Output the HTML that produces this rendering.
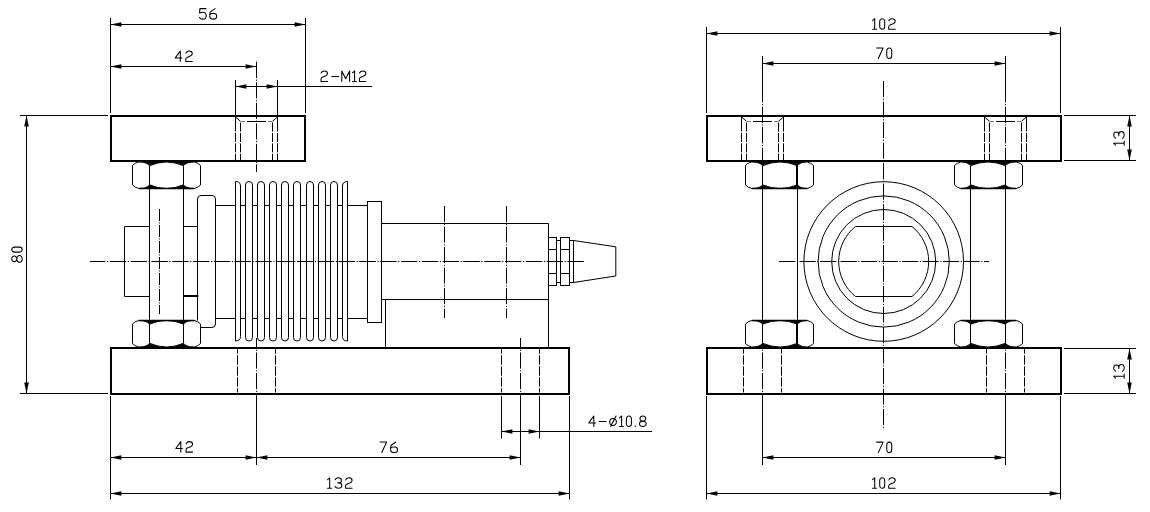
<!DOCTYPE html>
<html><head><meta charset="utf-8"><title>Drawing</title><style>html,body{margin:0;padding:0;background:#fff;width:1150px;height:512px;overflow:hidden;font-family:"Liberation Sans",sans-serif;}svg{display:block;}</style></head><body>
<svg width="1150" height="512" viewBox="0 0 1150 512" stroke="#000" fill="none">
<rect x="0" y="0" width="1150" height="512" fill="#fff" stroke="none"/>
<line x1="110.5" y1="18" x2="110.5" y2="113" stroke-width="1"/>
<line x1="305.5" y1="18" x2="305.5" y2="113" stroke-width="1"/>
<line x1="110.5" y1="24.5" x2="305.5" y2="24.5" stroke-width="1"/>
<path d="M110.5,24.5 L121.4,26.8 L121.4,22.2 Z" fill="#000" stroke="none"/>
<path d="M305.5,24.5 L294.6,22.2 L294.6,26.8 Z" fill="#000" stroke="none"/>
<path transform="translate(198.9,8.1)" d="M7,0.5 H1 L0.7,5 Q1.8,4.2 3.9,4.2 Q7.3,4.2 7.3,7.6 Q7.3,11 3.9,11 Q1.5,11 0.5,9.4" stroke-width="1.05" fill="none" stroke-linecap="round" stroke-linejoin="round"/>
<path transform="translate(209.3,8.1)" d="M5.7,0.5 L1.1,3.8 Q0.5,4.3 0.5,5.6 V8.2 Q0.5,11 3.3,11 H4.6 Q7.4,11 7.4,8.2 Q7.4,5.4 4.6,5.4 H3.3 Q1.4,5.4 0.5,6.6" stroke-width="1.05" fill="none" stroke-linecap="round" stroke-linejoin="round"/>
<line x1="110.5" y1="66.5" x2="256.5" y2="66.5" stroke-width="1"/>
<path d="M110.5,66.5 L121.4,68.8 L121.4,64.2 Z" fill="#000" stroke="none"/>
<path d="M256.5,66.5 L245.6,64.2 L245.6,68.8 Z" fill="#000" stroke="none"/>
<path transform="translate(174.8,50.5)" d="M5.5,11 V0.5 L0.5,7.4 H7.2" stroke-width="1.05" fill="none" stroke-linecap="round" stroke-linejoin="round"/>
<path transform="translate(185.2,50.5)" d="M0.7,2.6 Q1.6,0.5 3.9,0.5 Q7.1,0.5 7.1,3.1 Q7.1,4.6 5,5.6 L1.8,6.9 Q0.6,7.5 0.6,8.8 V11 H7.1" stroke-width="1.05" fill="none" stroke-linecap="round" stroke-linejoin="round"/>
<line x1="235.5" y1="80" x2="235.5" y2="115" stroke-width="1"/>
<line x1="277.5" y1="80" x2="277.5" y2="115" stroke-width="1"/>
<line x1="235.5" y1="86.5" x2="372" y2="86.5" stroke-width="1"/>
<path d="M235.5,86.5 L246.4,88.8 L246.4,84.2 Z" fill="#000" stroke="none"/>
<path d="M277.5,86.5 L266.6,84.2 L266.6,88.8 Z" fill="#000" stroke="none"/>
<path transform="translate(320.4,70.4)" d="M0.7,2.6 Q1.6,0.5 3.9,0.5 Q7.1,0.5 7.1,3.1 Q7.1,4.6 5,5.6 L1.8,6.9 Q0.6,7.5 0.6,8.8 V11 H7.1" stroke-width="1.05" fill="none" stroke-linecap="round" stroke-linejoin="round"/>
<path transform="translate(331.3,70.4)" d="M0.5,6 H7.3" stroke-width="1.05" fill="none" stroke-linecap="round" stroke-linejoin="round"/>
<path transform="translate(341.3,70.4)" d="M0.5,11 V0.5 L4.4,8.3 L8.3,0.5 V11" stroke-width="1.05" fill="none" stroke-linecap="round" stroke-linejoin="round"/>
<path transform="translate(352,70.4)" d="M0.5,2.4 L2.6,0.5 V11 M0.5,11 H4.4" stroke-width="1.05" fill="none" stroke-linecap="round" stroke-linejoin="round"/>
<path transform="translate(358.8,70.4)" d="M0.7,2.6 Q1.6,0.5 3.9,0.5 Q7.1,0.5 7.1,3.1 Q7.1,4.6 5,5.6 L1.8,6.9 Q0.6,7.5 0.6,8.8 V11 H7.1" stroke-width="1.05" fill="none" stroke-linecap="round" stroke-linejoin="round"/>
<line x1="20" y1="115.5" x2="108" y2="115.5" stroke-width="1"/>
<line x1="20" y1="393.5" x2="108" y2="393.5" stroke-width="1"/>
<line x1="26.5" y1="115.5" x2="26.5" y2="393.5" stroke-width="1"/>
<path d="M26.5,115.5 L24.2,126.4 L28.8,126.4 Z" fill="#000" stroke="none"/>
<path d="M26.5,393.5 L28.8,382.6 L24.2,382.6 Z" fill="#000" stroke="none"/>
<path transform="translate(11.2,262.7) rotate(-90)" d="M0.95,3.05 A2.9,2.55 0 1 0 6.75,3.05 A2.9,2.55 0 1 0 0.95,3.05 Z M0.5,8.3 A3.35,2.7 0 1 0 7.2,8.3 A3.35,2.7 0 1 0 0.5,8.3 Z" stroke-width="1.05" fill="none" stroke-linecap="round" stroke-linejoin="round"/>
<path transform="translate(11.2,252.6) rotate(-90)" d="M0.5,3.3 A2.5,2.8 0 0 1 5.5,3.3 V8.2 A2.5,2.8 0 0 1 0.5,8.2 Z" stroke-width="1.05" fill="none" stroke-linecap="round" stroke-linejoin="round"/>
<rect x="111" y="116" width="194" height="45" stroke-width="2" fill="none"/>
<line x1="235.5" y1="117" x2="235.5" y2="160" stroke-width="1" stroke-dasharray="14.5,1.4,9,1.4,9,1.4,9,1.4"/>
<line x1="277.5" y1="117" x2="277.5" y2="160" stroke-width="1" stroke-dasharray="14.5,1.4,9,1.4,9,1.4,9,1.4"/>
<line x1="240.5" y1="121.3" x2="240.5" y2="160" stroke-width="1" stroke-dasharray="9,1.4" stroke-dashoffset="9.1"/>
<line x1="272.5" y1="121.3" x2="272.5" y2="160" stroke-width="1" stroke-dasharray="9,1.4" stroke-dashoffset="9.1"/>
<line x1="235.5" y1="117" x2="240.5" y2="121.3" stroke-width="1"/>
<line x1="277.5" y1="117" x2="272.5" y2="121.3" stroke-width="1"/>
<line x1="240.5" y1="121.5" x2="245" y2="121.5" stroke-width="1" stroke="#777"/>
<line x1="247" y1="121.5" x2="266" y2="121.5" stroke-width="1"/>
<line x1="268" y1="121.5" x2="272.5" y2="121.5" stroke-width="1" stroke="#777"/>
<line x1="256.5" y1="60" x2="256.5" y2="172" stroke-width="1" stroke-dasharray="16.2,1.6,1.1,1.6" stroke-dashoffset="-1.85"/>
<path d="M138.7,162 L139.71,162.01 L140.68,162.06 L141.61,162.13 L142.49,162.23 L143.32,162.36 L144.11,162.52 L144.85,162.71 L145.55,162.93 L146.2,163.17 L146.81,163.45 L147.37,163.75 L147.89,164.08 L148.36,164.44 L148.78,164.83 L149.16,165.25 L149.5,165.7 L149.5,165.7 L150.56,165.25 L151.62,164.83 L152.69,164.44 L153.75,164.08 L154.81,163.75 L155.88,163.45 L156.94,163.17 L158,162.92 L159.06,162.71 L160.12,162.52 L161.19,162.36 L162.25,162.23 L163.31,162.13 L164.38,162.06 L165.44,162.01 L166.5,162 L167.56,162.01 L168.62,162.06 L169.69,162.13 L170.75,162.23 L171.81,162.36 L172.88,162.52 L173.94,162.71 L175,162.93 L176.06,163.17 L177.12,163.45 L178.19,163.75 L179.25,164.08 L180.31,164.44 L181.38,164.83 L182.44,165.25 L183.5,165.7 L183.5,165.7 L183.84,165.25 L184.22,164.83 L184.64,164.44 L185.11,164.08 L185.63,163.75 L186.19,163.45 L186.8,163.17 L187.45,162.93 L188.15,162.71 L188.89,162.52 L189.68,162.36 L190.51,162.23 L191.39,162.13 L192.32,162.06 L193.29,162.01 L194.3,162 Z" fill="#000" stroke="none"/>
<path d="M132.5,165.5 Q134.7,162.9 138.7,162 Q147,162 149.5,165.7 Q166.5,158.3 183.5,165.7 Q186,162 194.3,162 Q198.3,162.9 200.5,165.5" stroke-width="1" fill="none"/>
<path d="M138.7,188.5 L139.71,188.49 L140.68,188.44 L141.61,188.37 L142.49,188.27 L143.32,188.14 L144.11,187.98 L144.85,187.79 L145.55,187.57 L146.2,187.33 L146.81,187.05 L147.37,186.75 L147.89,186.42 L148.36,186.06 L148.78,185.67 L149.16,185.25 L149.5,184.8 L149.5,184.8 L150.56,185.25 L151.62,185.67 L152.69,186.06 L153.75,186.42 L154.81,186.75 L155.88,187.05 L156.94,187.33 L158,187.57 L159.06,187.79 L160.12,187.98 L161.19,188.14 L162.25,188.27 L163.31,188.37 L164.38,188.44 L165.44,188.49 L166.5,188.5 L167.56,188.49 L168.62,188.44 L169.69,188.37 L170.75,188.27 L171.81,188.14 L172.88,187.98 L173.94,187.79 L175,187.57 L176.06,187.33 L177.12,187.05 L178.19,186.75 L179.25,186.42 L180.31,186.06 L181.38,185.67 L182.44,185.25 L183.5,184.8 L183.5,184.8 L183.84,185.25 L184.22,185.67 L184.64,186.06 L185.11,186.42 L185.63,186.75 L186.19,187.05 L186.8,187.33 L187.45,187.57 L188.15,187.79 L188.89,187.98 L189.68,188.14 L190.51,188.27 L191.39,188.37 L192.32,188.44 L193.29,188.49 L194.3,188.5 Z" fill="#000" stroke="none"/>
<path d="M132.5,185 Q134.7,187.6 138.7,188.5 Q147,188.5 149.5,184.8 Q166.5,192.2 183.5,184.8 Q186,188.5 194.3,188.5 Q198.3,187.6 200.5,185" stroke-width="1" fill="none"/>
<line x1="132.5" y1="165.5" x2="132.5" y2="185" stroke-width="1"/>
<line x1="200.5" y1="165.5" x2="200.5" y2="185" stroke-width="1"/>
<line x1="149.5" y1="165.7" x2="149.5" y2="184.8" stroke-width="1"/>
<line x1="183.5" y1="165.7" x2="183.5" y2="184.8" stroke-width="1"/>
<line x1="138.7" y1="188.5" x2="194.3" y2="188.5" stroke-width="1.3"/>
<line x1="149.5" y1="188.5" x2="149.5" y2="320.5" stroke-width="1"/>
<line x1="183.5" y1="188.5" x2="183.5" y2="320.5" stroke-width="1"/>
<path d="M149.5,226.5 H124.5 V296.5 H149.5" stroke-width="1" fill="none"/>
<line x1="183.5" y1="226.5" x2="197.5" y2="226.5" stroke-width="1"/>
<line x1="183.5" y1="296" x2="198.5" y2="296" stroke-width="2"/>
<line x1="159.5" y1="209" x2="159.5" y2="314" stroke-width="1" stroke-dasharray="12,1.5,1,1.5"/>
<path d="M197.5,320.5 V199 Q197.5,195.5 201,195.5 H212 Q215.5,195.5 215.5,199 V324 Q215.5,327.5 212,327.5 H200.5" stroke-width="1" fill="none"/>
<line x1="215.5" y1="205.5" x2="235.5" y2="205.5" stroke-width="1"/>
<line x1="215.5" y1="318.5" x2="235.5" y2="318.5" stroke-width="1"/>
<path d="M235.5,341 V181.5 Q240.5,181.5 240.5,186 V336.5 Q240.5,341 235.5,341" stroke-width="1" fill="none"/>
<path d="M245.5,337.5 V185 A3.5,3.5 0 0 1 252.5,185 V337.5 A3.5,3.5 0 0 1 245.5,337.5 Z" stroke-width="1" fill="none"/>
<line x1="240.5" y1="205.5" x2="245.5" y2="205.5" stroke-width="1"/>
<line x1="240.5" y1="318.5" x2="245.5" y2="318.5" stroke-width="1"/>
<path d="M257.5,337.5 V185 A3.5,3.5 0 0 1 264.5,185 V337.5 A3.5,3.5 0 0 1 257.5,337.5 Z" stroke-width="1" fill="none"/>
<line x1="252.5" y1="205.5" x2="257.5" y2="205.5" stroke-width="1"/>
<line x1="252.5" y1="318.5" x2="257.5" y2="318.5" stroke-width="1"/>
<path d="M269.5,337.5 V185 A3.5,3.5 0 0 1 276.5,185 V337.5 A3.5,3.5 0 0 1 269.5,337.5 Z" stroke-width="1" fill="none"/>
<line x1="264.5" y1="205.5" x2="269.5" y2="205.5" stroke-width="1"/>
<line x1="264.5" y1="318.5" x2="269.5" y2="318.5" stroke-width="1"/>
<path d="M281.5,337.5 V185 A3.5,3.5 0 0 1 288.5,185 V337.5 A3.5,3.5 0 0 1 281.5,337.5 Z" stroke-width="1" fill="none"/>
<line x1="276.5" y1="205.5" x2="281.5" y2="205.5" stroke-width="1"/>
<line x1="276.5" y1="318.5" x2="281.5" y2="318.5" stroke-width="1"/>
<path d="M293.5,337.5 V185 A3.5,3.5 0 0 1 300.5,185 V337.5 A3.5,3.5 0 0 1 293.5,337.5 Z" stroke-width="1" fill="none"/>
<line x1="288.5" y1="205.5" x2="293.5" y2="205.5" stroke-width="1"/>
<line x1="288.5" y1="318.5" x2="293.5" y2="318.5" stroke-width="1"/>
<path d="M306.5,337.5 V185 A3.5,3.5 0 0 1 313.5,185 V337.5 A3.5,3.5 0 0 1 306.5,337.5 Z" stroke-width="1" fill="none"/>
<line x1="300.5" y1="205.5" x2="306.5" y2="205.5" stroke-width="1"/>
<line x1="300.5" y1="318.5" x2="306.5" y2="318.5" stroke-width="1"/>
<path d="M318.5,337.5 V185 A3.5,3.5 0 0 1 325.5,185 V337.5 A3.5,3.5 0 0 1 318.5,337.5 Z" stroke-width="1" fill="none"/>
<line x1="313.5" y1="205.5" x2="318.5" y2="205.5" stroke-width="1"/>
<line x1="313.5" y1="318.5" x2="318.5" y2="318.5" stroke-width="1"/>
<path d="M330.5,337.5 V185 A3.5,3.5 0 0 1 337.5,185 V337.5 A3.5,3.5 0 0 1 330.5,337.5 Z" stroke-width="1" fill="none"/>
<line x1="325.5" y1="205.5" x2="330.5" y2="205.5" stroke-width="1"/>
<line x1="325.5" y1="318.5" x2="330.5" y2="318.5" stroke-width="1"/>
<path d="M347.5,341 V181.5 Q342.5,181.5 342.5,186 V336.5 Q342.5,341 347.5,341" stroke-width="1" fill="none"/>
<line x1="337.5" y1="205.5" x2="342.5" y2="205.5" stroke-width="1"/>
<line x1="337.5" y1="318.5" x2="342.5" y2="318.5" stroke-width="1"/>
<line x1="347.5" y1="205.5" x2="367.5" y2="205.5" stroke-width="1"/>
<line x1="347.5" y1="318.5" x2="367.5" y2="318.5" stroke-width="1"/>
<rect x="367.5" y="201.5" width="14" height="121" stroke-width="1" fill="none"/>
<line x1="381.5" y1="223.5" x2="548.5" y2="223.5" stroke-width="1"/>
<line x1="381.5" y1="299.5" x2="548.5" y2="299.5" stroke-width="1"/>
<line x1="548.5" y1="223.5" x2="548.5" y2="347" stroke-width="1"/>
<line x1="385.5" y1="299.5" x2="385.5" y2="347" stroke-width="1"/>
<line x1="444.5" y1="206" x2="444.5" y2="318" stroke-width="1" stroke-dasharray="16.2,1.6,1.1,1.6"/>
<line x1="506.5" y1="206" x2="506.5" y2="318" stroke-width="1" stroke-dasharray="16.2,1.6,1.1,1.6"/>
<rect x="548.5" y="237.5" width="8" height="48" stroke-width="1" fill="#fff"/>
<line x1="548.5" y1="249.5" x2="556.5" y2="249.5" stroke-width="1"/>
<line x1="548.5" y1="273.5" x2="556.5" y2="273.5" stroke-width="1"/>
<rect x="556.5" y="240.5" width="4" height="42" stroke-width="1" fill="none"/>
<rect x="560.5" y="237.5" width="9" height="48" stroke-width="1" fill="none"/>
<line x1="560.5" y1="249.5" x2="569.5" y2="249.5" stroke-width="1"/>
<line x1="560.5" y1="273.5" x2="569.5" y2="273.5" stroke-width="1"/>
<rect x="569.5" y="240.5" width="4" height="42" stroke-width="1" fill="none"/>
<path d="M573.5,240.5 L615.8,246.8 V276 L573.5,282.5" stroke-width="1" fill="none"/>
<line x1="90" y1="261.5" x2="584" y2="261.5" stroke-width="1" stroke-dasharray="16.4,1.6,1.2,1.6" stroke-dashoffset="1"/>
<path d="M138.7,320.5 L139.71,320.51 L140.68,320.56 L141.61,320.63 L142.49,320.73 L143.32,320.86 L144.11,321.02 L144.85,321.21 L145.55,321.43 L146.2,321.67 L146.81,321.95 L147.37,322.25 L147.89,322.58 L148.36,322.94 L148.78,323.33 L149.16,323.75 L149.5,324.2 L149.5,324.2 L150.56,323.75 L151.62,323.33 L152.69,322.94 L153.75,322.58 L154.81,322.25 L155.88,321.95 L156.94,321.67 L158,321.43 L159.06,321.21 L160.12,321.02 L161.19,320.86 L162.25,320.73 L163.31,320.63 L164.38,320.56 L165.44,320.51 L166.5,320.5 L167.56,320.51 L168.62,320.56 L169.69,320.63 L170.75,320.73 L171.81,320.86 L172.88,321.02 L173.94,321.21 L175,321.42 L176.06,321.67 L177.12,321.95 L178.19,322.25 L179.25,322.58 L180.31,322.94 L181.38,323.33 L182.44,323.75 L183.5,324.2 L183.5,324.2 L183.84,323.75 L184.22,323.33 L184.64,322.94 L185.11,322.58 L185.63,322.25 L186.19,321.95 L186.8,321.67 L187.45,321.43 L188.15,321.21 L188.89,321.02 L189.68,320.86 L190.51,320.73 L191.39,320.63 L192.32,320.56 L193.29,320.51 L194.3,320.5 Z" fill="#000" stroke="none"/>
<path d="M132.5,324 Q134.7,321.4 138.7,320.5 Q147,320.5 149.5,324.2 Q166.5,316.8 183.5,324.2 Q186,320.5 194.3,320.5 Q198.3,321.4 200.5,324" stroke-width="1" fill="none"/>
<path d="M138.7,347 L139.71,346.99 L140.68,346.94 L141.61,346.87 L142.49,346.77 L143.32,346.64 L144.11,346.48 L144.85,346.29 L145.55,346.07 L146.2,345.83 L146.81,345.55 L147.37,345.25 L147.89,344.92 L148.36,344.56 L148.78,344.17 L149.16,343.75 L149.5,343.3 L149.5,343.3 L150.56,343.75 L151.62,344.17 L152.69,344.56 L153.75,344.92 L154.81,345.25 L155.88,345.55 L156.94,345.83 L158,346.07 L159.06,346.29 L160.12,346.48 L161.19,346.64 L162.25,346.77 L163.31,346.87 L164.38,346.94 L165.44,346.99 L166.5,347 L167.56,346.99 L168.62,346.94 L169.69,346.87 L170.75,346.77 L171.81,346.64 L172.88,346.48 L173.94,346.29 L175,346.08 L176.06,345.83 L177.12,345.55 L178.19,345.25 L179.25,344.92 L180.31,344.56 L181.38,344.17 L182.44,343.75 L183.5,343.3 L183.5,343.3 L183.84,343.75 L184.22,344.17 L184.64,344.56 L185.11,344.92 L185.63,345.25 L186.19,345.55 L186.8,345.83 L187.45,346.07 L188.15,346.29 L188.89,346.48 L189.68,346.64 L190.51,346.77 L191.39,346.87 L192.32,346.94 L193.29,346.99 L194.3,347 Z" fill="#000" stroke="none"/>
<path d="M132.5,343.5 Q134.7,346.1 138.7,347 Q147,347 149.5,343.3 Q166.5,350.7 183.5,343.3 Q186,347 194.3,347 Q198.3,346.1 200.5,343.5" stroke-width="1" fill="none"/>
<line x1="132.5" y1="324" x2="132.5" y2="343.5" stroke-width="1"/>
<line x1="200.5" y1="324" x2="200.5" y2="343.5" stroke-width="1"/>
<line x1="149.5" y1="324.2" x2="149.5" y2="343.3" stroke-width="1"/>
<line x1="183.5" y1="324.2" x2="183.5" y2="343.3" stroke-width="1"/>
<line x1="138.7" y1="320.5" x2="194.3" y2="320.5" stroke-width="1.3"/>
<rect x="111" y="348" width="458" height="46" stroke-width="2" fill="none"/>
<line x1="237.5" y1="349" x2="237.5" y2="392.5" stroke-width="1" stroke-dasharray="9.5,1.5" stroke-dashoffset="4.75"/>
<line x1="275.5" y1="349" x2="275.5" y2="392.5" stroke-width="1" stroke-dasharray="9.5,1.5" stroke-dashoffset="4.75"/>
<line x1="256.5" y1="338" x2="256.5" y2="400" stroke-width="1" stroke-dasharray="16.2,1.6,1.1,1.6" stroke-dashoffset="6.05"/>
<line x1="256.5" y1="400" x2="256.5" y2="465" stroke-width="1"/>
<line x1="501.5" y1="349" x2="501.5" y2="392.5" stroke-width="1" stroke-dasharray="9.5,1.5" stroke-dashoffset="4.75"/>
<line x1="539.5" y1="349" x2="539.5" y2="392.5" stroke-width="1" stroke-dasharray="9.5,1.5" stroke-dashoffset="4.75"/>
<line x1="520.5" y1="338" x2="520.5" y2="400" stroke-width="1" stroke-dasharray="16.2,1.6,1.1,1.6" stroke-dashoffset="6.05"/>
<line x1="520.5" y1="400" x2="520.5" y2="465" stroke-width="1"/>
<line x1="110.5" y1="396" x2="110.5" y2="499.5" stroke-width="1"/>
<line x1="569.5" y1="396" x2="569.5" y2="499.5" stroke-width="1"/>
<line x1="110.5" y1="457.5" x2="520.5" y2="457.5" stroke-width="1"/>
<path d="M110.5,457.5 L121.4,459.8 L121.4,455.2 Z" fill="#000" stroke="none"/>
<path d="M256.5,457.5 L245.6,455.2 L245.6,459.8 Z" fill="#000" stroke="none"/>
<path d="M256.5,457.5 L267.4,459.8 L267.4,455.2 Z" fill="#000" stroke="none"/>
<path d="M520.5,457.5 L509.6,455.2 L509.6,459.8 Z" fill="#000" stroke="none"/>
<path transform="translate(175.3,441.1)" d="M5.5,11 V0.5 L0.5,7.4 H7.2" stroke-width="1.05" fill="none" stroke-linecap="round" stroke-linejoin="round"/>
<path transform="translate(185.5,441.1)" d="M0.7,2.6 Q1.6,0.5 3.9,0.5 Q7.1,0.5 7.1,3.1 Q7.1,4.6 5,5.6 L1.8,6.9 Q0.6,7.5 0.6,8.8 V11 H7.1" stroke-width="1.05" fill="none" stroke-linecap="round" stroke-linejoin="round"/>
<path transform="translate(379.6,441.5)" d="M0.5,0.5 H7 L2.2,11" stroke-width="1.05" fill="none" stroke-linecap="round" stroke-linejoin="round"/>
<path transform="translate(390.1,441.5)" d="M5.7,0.5 L1.1,3.8 Q0.5,4.3 0.5,5.6 V8.2 Q0.5,11 3.3,11 H4.6 Q7.4,11 7.4,8.2 Q7.4,5.4 4.6,5.4 H3.3 Q1.4,5.4 0.5,6.6" stroke-width="1.05" fill="none" stroke-linecap="round" stroke-linejoin="round"/>
<line x1="110.5" y1="493.5" x2="569.5" y2="493.5" stroke-width="1"/>
<path d="M110.5,493.5 L121.4,495.8 L121.4,491.2 Z" fill="#000" stroke="none"/>
<path d="M569.5,493.5 L558.6,491.2 L558.6,495.8 Z" fill="#000" stroke="none"/>
<path transform="translate(327.1,477.3)" d="M0.5,2.4 L2.6,0.5 V11 M0.5,11 H4.4" stroke-width="1.05" fill="none" stroke-linecap="round" stroke-linejoin="round"/>
<path transform="translate(334.5,477.3)" d="M0.6,2.5 Q1.4,0.5 3.9,0.5 Q6.9,0.5 6.9,3.1 Q6.9,5.6 4.4,5.6 H3.3 M4.4,5.6 Q7.3,5.6 7.3,8.3 Q7.3,11 3.9,11 Q1.3,11 0.5,9.2" stroke-width="1.05" fill="none" stroke-linecap="round" stroke-linejoin="round"/>
<path transform="translate(345,477.3)" d="M0.7,2.6 Q1.6,0.5 3.9,0.5 Q7.1,0.5 7.1,3.1 Q7.1,4.6 5,5.6 L1.8,6.9 Q0.6,7.5 0.6,8.8 V11 H7.1" stroke-width="1.05" fill="none" stroke-linecap="round" stroke-linejoin="round"/>
<line x1="501.5" y1="396" x2="501.5" y2="438.5" stroke-width="1"/>
<line x1="539.5" y1="396" x2="539.5" y2="438.5" stroke-width="1"/>
<line x1="501.5" y1="431.5" x2="652" y2="431.5" stroke-width="1"/>
<path d="M501.5,431.5 L512.4,433.8 L512.4,429.2 Z" fill="#000" stroke="none"/>
<path d="M539.5,431.5 L528.6,429.2 L528.6,433.8 Z" fill="#000" stroke="none"/>
<path transform="translate(588.3,415.5)" d="M5.5,11 V0.5 L0.5,7.4 H7.2" stroke-width="1.05" fill="none" stroke-linecap="round" stroke-linejoin="round"/>
<path transform="translate(598.8,415.5)" d="M0.5,6 H7.3" stroke-width="1.05" fill="none" stroke-linecap="round" stroke-linejoin="round"/>
<path transform="translate(609.2,415.5)" d="M0.5,6.4 A3.35,3.5 0 1 0 7.2,6.4 A3.35,3.5 0 1 0 0.5,6.4 Z M1.4,11 L6.9,0.6" stroke-width="1.05" fill="none" stroke-linecap="round" stroke-linejoin="round"/>
<path transform="translate(619,415.5)" d="M0.5,2.4 L2.6,0.5 V11 M0.5,11 H4.4" stroke-width="1.05" fill="none" stroke-linecap="round" stroke-linejoin="round"/>
<path transform="translate(625.9,415.5)" d="M0.5,3.3 A2.5,2.8 0 0 1 5.5,3.3 V8.2 A2.5,2.8 0 0 1 0.5,8.2 Z" stroke-width="1.05" fill="none" stroke-linecap="round" stroke-linejoin="round"/>
<path transform="translate(634.8,415.5)" d="M0.5,10.6 V11" stroke-width="1.05" fill="none" stroke-linecap="round" stroke-linejoin="round"/>
<path transform="translate(639,415.5)" d="M0.95,3.05 A2.9,2.55 0 1 0 6.75,3.05 A2.9,2.55 0 1 0 0.95,3.05 Z M0.5,8.3 A3.35,2.7 0 1 0 7.2,8.3 A3.35,2.7 0 1 0 0.5,8.3 Z" stroke-width="1.05" fill="none" stroke-linecap="round" stroke-linejoin="round"/>
<line x1="706.5" y1="27" x2="706.5" y2="113" stroke-width="1"/>
<line x1="1060.5" y1="27" x2="1060.5" y2="113" stroke-width="1"/>
<line x1="706.5" y1="33.5" x2="1060.5" y2="33.5" stroke-width="1"/>
<path d="M706.5,33.5 L717.4,35.8 L717.4,31.2 Z" fill="#000" stroke="none"/>
<path d="M1060.5,33.5 L1049.6,31.2 L1049.6,35.8 Z" fill="#000" stroke="none"/>
<path transform="translate(872.1,18.2)" d="M0.5,2.4 L2.6,0.5 V11 M0.5,11 H4.4" stroke-width="1.05" fill="none" stroke-linecap="round" stroke-linejoin="round"/>
<path transform="translate(879.2,18.2)" d="M0.5,3.3 A2.5,2.8 0 0 1 5.5,3.3 V8.2 A2.5,2.8 0 0 1 0.5,8.2 Z" stroke-width="1.05" fill="none" stroke-linecap="round" stroke-linejoin="round"/>
<path transform="translate(888.1,18.2)" d="M0.7,2.6 Q1.6,0.5 3.9,0.5 Q7.1,0.5 7.1,3.1 Q7.1,4.6 5,5.6 L1.8,6.9 Q0.6,7.5 0.6,8.8 V11 H7.1" stroke-width="1.05" fill="none" stroke-linecap="round" stroke-linejoin="round"/>
<line x1="762.5" y1="56" x2="762.5" y2="100" stroke-width="1"/>
<line x1="1005.5" y1="56" x2="1005.5" y2="100" stroke-width="1"/>
<line x1="762.5" y1="63.5" x2="1005.5" y2="63.5" stroke-width="1"/>
<path d="M762.5,63.5 L773.4,65.8 L773.4,61.2 Z" fill="#000" stroke="none"/>
<path d="M1005.5,63.5 L994.6,61.2 L994.6,65.8 Z" fill="#000" stroke="none"/>
<path transform="translate(876.1,47.5)" d="M0.5,0.5 H7 L2.2,11" stroke-width="1.05" fill="none" stroke-linecap="round" stroke-linejoin="round"/>
<path transform="translate(886.25,47.5)" d="M0.5,3.3 A2.5,2.8 0 0 1 5.5,3.3 V8.2 A2.5,2.8 0 0 1 0.5,8.2 Z" stroke-width="1.05" fill="none" stroke-linecap="round" stroke-linejoin="round"/>
<line x1="1064" y1="115.5" x2="1136" y2="115.5" stroke-width="1"/>
<line x1="1064" y1="160.5" x2="1136" y2="160.5" stroke-width="1"/>
<line x1="1129.5" y1="115.5" x2="1129.5" y2="160.5" stroke-width="1"/>
<path d="M1129.5,115.5 L1127.2,126.4 L1131.8,126.4 Z" fill="#000" stroke="none"/>
<path d="M1129.5,160.5 L1131.8,149.6 L1127.2,149.6 Z" fill="#000" stroke="none"/>
<path transform="translate(1113.2,145.75) rotate(-90)" d="M0.5,2.4 L2.6,0.5 V11 M0.5,11 H4.4" stroke-width="1.05" fill="none" stroke-linecap="round" stroke-linejoin="round"/>
<path transform="translate(1113.2,138.9) rotate(-90)" d="M0.6,2.5 Q1.4,0.5 3.9,0.5 Q6.9,0.5 6.9,3.1 Q6.9,5.6 4.4,5.6 H3.3 M4.4,5.6 Q7.3,5.6 7.3,8.3 Q7.3,11 3.9,11 Q1.3,11 0.5,9.2" stroke-width="1.05" fill="none" stroke-linecap="round" stroke-linejoin="round"/>
<line x1="1064" y1="348.5" x2="1136" y2="348.5" stroke-width="1"/>
<line x1="1064" y1="393.5" x2="1136" y2="393.5" stroke-width="1"/>
<line x1="1129.5" y1="348.5" x2="1129.5" y2="393.5" stroke-width="1"/>
<path d="M1129.5,348.5 L1127.2,359.4 L1131.8,359.4 Z" fill="#000" stroke="none"/>
<path d="M1129.5,393.5 L1131.8,382.6 L1127.2,382.6 Z" fill="#000" stroke="none"/>
<path transform="translate(1113.2,378.75) rotate(-90)" d="M0.5,2.4 L2.6,0.5 V11 M0.5,11 H4.4" stroke-width="1.05" fill="none" stroke-linecap="round" stroke-linejoin="round"/>
<path transform="translate(1113.2,371.9) rotate(-90)" d="M0.6,2.5 Q1.4,0.5 3.9,0.5 Q6.9,0.5 6.9,3.1 Q6.9,5.6 4.4,5.6 H3.3 M4.4,5.6 Q7.3,5.6 7.3,8.3 Q7.3,11 3.9,11 Q1.3,11 0.5,9.2" stroke-width="1.05" fill="none" stroke-linecap="round" stroke-linejoin="round"/>
<rect x="707" y="116" width="354" height="45" stroke-width="2" fill="none"/>
<line x1="741.5" y1="117" x2="741.5" y2="160" stroke-width="1" stroke-dasharray="14.5,1.4,9,1.4,9,1.4,9,1.4"/>
<line x1="783.5" y1="117" x2="783.5" y2="160" stroke-width="1" stroke-dasharray="14.5,1.4,9,1.4,9,1.4,9,1.4"/>
<line x1="746.5" y1="121.3" x2="746.5" y2="160" stroke-width="1" stroke-dasharray="9,1.4" stroke-dashoffset="9.1"/>
<line x1="778.5" y1="121.3" x2="778.5" y2="160" stroke-width="1" stroke-dasharray="9,1.4" stroke-dashoffset="9.1"/>
<line x1="741.5" y1="117" x2="746.5" y2="121.3" stroke-width="1"/>
<line x1="783.5" y1="117" x2="778.5" y2="121.3" stroke-width="1"/>
<line x1="746.5" y1="121.5" x2="751" y2="121.5" stroke-width="1" stroke="#777"/>
<line x1="753" y1="121.5" x2="772" y2="121.5" stroke-width="1"/>
<line x1="774" y1="121.5" x2="778.5" y2="121.5" stroke-width="1" stroke="#777"/>
<line x1="762.5" y1="100" x2="762.5" y2="162" stroke-width="1" stroke-dasharray="16.2,1.6,1.1,1.6" stroke-dashoffset="13.85"/>
<line x1="984.5" y1="117" x2="984.5" y2="160" stroke-width="1" stroke-dasharray="14.5,1.4,9,1.4,9,1.4,9,1.4"/>
<line x1="1026.5" y1="117" x2="1026.5" y2="160" stroke-width="1" stroke-dasharray="14.5,1.4,9,1.4,9,1.4,9,1.4"/>
<line x1="989.5" y1="121.3" x2="989.5" y2="160" stroke-width="1" stroke-dasharray="9,1.4" stroke-dashoffset="9.1"/>
<line x1="1021.5" y1="121.3" x2="1021.5" y2="160" stroke-width="1" stroke-dasharray="9,1.4" stroke-dashoffset="9.1"/>
<line x1="984.5" y1="117" x2="989.5" y2="121.3" stroke-width="1"/>
<line x1="1026.5" y1="117" x2="1021.5" y2="121.3" stroke-width="1"/>
<line x1="989.5" y1="121.5" x2="994" y2="121.5" stroke-width="1" stroke="#777"/>
<line x1="996" y1="121.5" x2="1015" y2="121.5" stroke-width="1"/>
<line x1="1017" y1="121.5" x2="1021.5" y2="121.5" stroke-width="1" stroke="#777"/>
<line x1="1005.5" y1="100" x2="1005.5" y2="162" stroke-width="1" stroke-dasharray="16.2,1.6,1.1,1.6" stroke-dashoffset="13.85"/>
<path d="M751.7,162 L752.71,162.01 L753.68,162.06 L754.61,162.13 L755.49,162.23 L756.32,162.36 L757.11,162.52 L757.85,162.71 L758.55,162.93 L759.2,163.17 L759.81,163.45 L760.37,163.75 L760.89,164.08 L761.36,164.44 L761.78,164.83 L762.16,165.25 L762.5,165.7 L762.5,165.7 L763.59,165.25 L764.69,164.83 L765.78,164.44 L766.88,164.08 L767.97,163.75 L769.06,163.45 L770.16,163.17 L771.25,162.92 L772.34,162.71 L773.44,162.52 L774.53,162.36 L775.62,162.23 L776.72,162.13 L777.81,162.06 L778.91,162.01 L780,162 L781.09,162.01 L782.19,162.06 L783.28,162.13 L784.38,162.23 L785.47,162.36 L786.56,162.52 L787.66,162.71 L788.75,162.93 L789.84,163.17 L790.94,163.45 L792.03,163.75 L793.12,164.08 L794.22,164.44 L795.31,164.83 L796.41,165.25 L797.5,165.7 L797.5,165.7 L797.83,165.25 L798.2,164.83 L798.61,164.44 L799.05,164.08 L799.53,163.75 L800.05,163.45 L800.61,163.17 L801.2,162.93 L801.83,162.71 L802.5,162.52 L803.21,162.36 L803.95,162.23 L804.73,162.13 L805.55,162.06 L806.41,162.01 L807.3,162 Z" fill="#000" stroke="none"/>
<path d="M745.5,165.5 Q747.7,162.9 751.7,162 Q760,162 762.5,165.7 Q780,158.3 797.5,165.7 Q800,162 807.3,162 Q811.3,162.9 813.5,165.5" stroke-width="1" fill="none"/>
<path d="M751.7,188.5 L752.71,188.49 L753.68,188.44 L754.61,188.37 L755.49,188.27 L756.32,188.14 L757.11,187.98 L757.85,187.79 L758.55,187.57 L759.2,187.33 L759.81,187.05 L760.37,186.75 L760.89,186.42 L761.36,186.06 L761.78,185.67 L762.16,185.25 L762.5,184.8 L762.5,184.8 L763.59,185.25 L764.69,185.67 L765.78,186.06 L766.88,186.42 L767.97,186.75 L769.06,187.05 L770.16,187.33 L771.25,187.57 L772.34,187.79 L773.44,187.98 L774.53,188.14 L775.62,188.27 L776.72,188.37 L777.81,188.44 L778.91,188.49 L780,188.5 L781.09,188.49 L782.19,188.44 L783.28,188.37 L784.38,188.27 L785.47,188.14 L786.56,187.98 L787.66,187.79 L788.75,187.57 L789.84,187.33 L790.94,187.05 L792.03,186.75 L793.12,186.42 L794.22,186.06 L795.31,185.67 L796.41,185.25 L797.5,184.8 L797.5,184.8 L797.83,185.25 L798.2,185.67 L798.61,186.06 L799.05,186.42 L799.53,186.75 L800.05,187.05 L800.61,187.33 L801.2,187.57 L801.83,187.79 L802.5,187.98 L803.21,188.14 L803.95,188.27 L804.73,188.37 L805.55,188.44 L806.41,188.49 L807.3,188.5 Z" fill="#000" stroke="none"/>
<path d="M745.5,185 Q747.7,187.6 751.7,188.5 Q760,188.5 762.5,184.8 Q780,192.2 797.5,184.8 Q800,188.5 807.3,188.5 Q811.3,187.6 813.5,185" stroke-width="1" fill="none"/>
<line x1="745.5" y1="165.5" x2="745.5" y2="185" stroke-width="1"/>
<line x1="813.5" y1="165.5" x2="813.5" y2="185" stroke-width="1"/>
<line x1="762.5" y1="165.7" x2="762.5" y2="184.8" stroke-width="1"/>
<line x1="797" y1="163" x2="797" y2="187.5" stroke-width="2"/>
<line x1="751.7" y1="188.5" x2="807.3" y2="188.5" stroke-width="1.3"/>
<path d="M960.7,162 L961.59,162.01 L962.45,162.06 L963.27,162.13 L964.05,162.23 L964.79,162.36 L965.5,162.52 L966.17,162.71 L966.8,162.93 L967.39,163.17 L967.95,163.45 L968.47,163.75 L968.95,164.08 L969.39,164.44 L969.8,164.83 L970.17,165.25 L970.5,165.7 L970.5,165.7 L971.59,165.25 L972.69,164.83 L973.78,164.44 L974.88,164.08 L975.97,163.75 L977.06,163.45 L978.16,163.17 L979.25,162.92 L980.34,162.71 L981.44,162.52 L982.53,162.36 L983.62,162.23 L984.72,162.13 L985.81,162.06 L986.91,162.01 L988,162 L989.09,162.01 L990.19,162.06 L991.28,162.13 L992.38,162.23 L993.47,162.36 L994.56,162.52 L995.66,162.71 L996.75,162.93 L997.84,163.17 L998.94,163.45 L1000.03,163.75 L1001.12,164.08 L1002.22,164.44 L1003.31,164.83 L1004.41,165.25 L1005.5,165.7 L1005.5,165.7 L1005.84,165.25 L1006.22,164.83 L1006.64,164.44 L1007.11,164.08 L1007.63,163.75 L1008.19,163.45 L1008.8,163.17 L1009.45,162.93 L1010.15,162.71 L1010.89,162.52 L1011.68,162.36 L1012.51,162.23 L1013.39,162.13 L1014.32,162.06 L1015.29,162.01 L1016.3,162 Z" fill="#000" stroke="none"/>
<path d="M954.5,165.5 Q956.7,162.9 960.7,162 Q968,162 970.5,165.7 Q988,158.3 1005.5,165.7 Q1008,162 1016.3,162 Q1020.3,162.9 1022.5,165.5" stroke-width="1" fill="none"/>
<path d="M960.7,188.5 L961.59,188.49 L962.45,188.44 L963.27,188.37 L964.05,188.27 L964.79,188.14 L965.5,187.98 L966.17,187.79 L966.8,187.57 L967.39,187.33 L967.95,187.05 L968.47,186.75 L968.95,186.42 L969.39,186.06 L969.8,185.67 L970.17,185.25 L970.5,184.8 L970.5,184.8 L971.59,185.25 L972.69,185.67 L973.78,186.06 L974.88,186.42 L975.97,186.75 L977.06,187.05 L978.16,187.33 L979.25,187.57 L980.34,187.79 L981.44,187.98 L982.53,188.14 L983.62,188.27 L984.72,188.37 L985.81,188.44 L986.91,188.49 L988,188.5 L989.09,188.49 L990.19,188.44 L991.28,188.37 L992.38,188.27 L993.47,188.14 L994.56,187.98 L995.66,187.79 L996.75,187.57 L997.84,187.33 L998.94,187.05 L1000.03,186.75 L1001.12,186.42 L1002.22,186.06 L1003.31,185.67 L1004.41,185.25 L1005.5,184.8 L1005.5,184.8 L1005.84,185.25 L1006.22,185.67 L1006.64,186.06 L1007.11,186.42 L1007.63,186.75 L1008.19,187.05 L1008.8,187.33 L1009.45,187.57 L1010.15,187.79 L1010.89,187.98 L1011.68,188.14 L1012.51,188.27 L1013.39,188.37 L1014.32,188.44 L1015.29,188.49 L1016.3,188.5 Z" fill="#000" stroke="none"/>
<path d="M954.5,185 Q956.7,187.6 960.7,188.5 Q968,188.5 970.5,184.8 Q988,192.2 1005.5,184.8 Q1008,188.5 1016.3,188.5 Q1020.3,187.6 1022.5,185" stroke-width="1" fill="none"/>
<line x1="954.5" y1="165.5" x2="954.5" y2="185" stroke-width="1"/>
<line x1="1022.5" y1="165.5" x2="1022.5" y2="185" stroke-width="1"/>
<line x1="970.5" y1="165.7" x2="970.5" y2="184.8" stroke-width="1"/>
<line x1="1005.5" y1="165.7" x2="1005.5" y2="184.8" stroke-width="1"/>
<line x1="960.7" y1="188.5" x2="1016.3" y2="188.5" stroke-width="1.3"/>
<path d="M751.7,320.5 L752.71,320.51 L753.68,320.56 L754.61,320.63 L755.49,320.73 L756.32,320.86 L757.11,321.02 L757.85,321.21 L758.55,321.43 L759.2,321.67 L759.81,321.95 L760.37,322.25 L760.89,322.58 L761.36,322.94 L761.78,323.33 L762.16,323.75 L762.5,324.2 L762.5,324.2 L763.59,323.75 L764.69,323.33 L765.78,322.94 L766.88,322.58 L767.97,322.25 L769.06,321.95 L770.16,321.67 L771.25,321.43 L772.34,321.21 L773.44,321.02 L774.53,320.86 L775.62,320.73 L776.72,320.63 L777.81,320.56 L778.91,320.51 L780,320.5 L781.09,320.51 L782.19,320.56 L783.28,320.63 L784.38,320.73 L785.47,320.86 L786.56,321.02 L787.66,321.21 L788.75,321.42 L789.84,321.67 L790.94,321.95 L792.03,322.25 L793.12,322.58 L794.22,322.94 L795.31,323.33 L796.41,323.75 L797.5,324.2 L797.5,324.2 L797.83,323.75 L798.2,323.33 L798.61,322.94 L799.05,322.58 L799.53,322.25 L800.05,321.95 L800.61,321.67 L801.2,321.43 L801.83,321.21 L802.5,321.02 L803.21,320.86 L803.95,320.73 L804.73,320.63 L805.55,320.56 L806.41,320.51 L807.3,320.5 Z" fill="#000" stroke="none"/>
<path d="M745.5,324 Q747.7,321.4 751.7,320.5 Q760,320.5 762.5,324.2 Q780,316.8 797.5,324.2 Q800,320.5 807.3,320.5 Q811.3,321.4 813.5,324" stroke-width="1" fill="none"/>
<path d="M751.7,347 L752.71,346.99 L753.68,346.94 L754.61,346.87 L755.49,346.77 L756.32,346.64 L757.11,346.48 L757.85,346.29 L758.55,346.07 L759.2,345.83 L759.81,345.55 L760.37,345.25 L760.89,344.92 L761.36,344.56 L761.78,344.17 L762.16,343.75 L762.5,343.3 L762.5,343.3 L763.59,343.75 L764.69,344.17 L765.78,344.56 L766.88,344.92 L767.97,345.25 L769.06,345.55 L770.16,345.83 L771.25,346.07 L772.34,346.29 L773.44,346.48 L774.53,346.64 L775.62,346.77 L776.72,346.87 L777.81,346.94 L778.91,346.99 L780,347 L781.09,346.99 L782.19,346.94 L783.28,346.87 L784.38,346.77 L785.47,346.64 L786.56,346.48 L787.66,346.29 L788.75,346.08 L789.84,345.83 L790.94,345.55 L792.03,345.25 L793.12,344.92 L794.22,344.56 L795.31,344.17 L796.41,343.75 L797.5,343.3 L797.5,343.3 L797.83,343.75 L798.2,344.17 L798.61,344.56 L799.05,344.92 L799.53,345.25 L800.05,345.55 L800.61,345.83 L801.2,346.07 L801.83,346.29 L802.5,346.48 L803.21,346.64 L803.95,346.77 L804.73,346.87 L805.55,346.94 L806.41,346.99 L807.3,347 Z" fill="#000" stroke="none"/>
<path d="M745.5,343.5 Q747.7,346.1 751.7,347 Q760,347 762.5,343.3 Q780,350.7 797.5,343.3 Q800,347 807.3,347 Q811.3,346.1 813.5,343.5" stroke-width="1" fill="none"/>
<line x1="745.5" y1="324" x2="745.5" y2="343.5" stroke-width="1"/>
<line x1="813.5" y1="324" x2="813.5" y2="343.5" stroke-width="1"/>
<line x1="762.5" y1="324.2" x2="762.5" y2="343.3" stroke-width="1"/>
<line x1="797" y1="321.5" x2="797" y2="346" stroke-width="2"/>
<line x1="751.7" y1="320.5" x2="807.3" y2="320.5" stroke-width="1.3"/>
<path d="M960.7,320.5 L961.59,320.51 L962.45,320.56 L963.27,320.63 L964.05,320.73 L964.79,320.86 L965.5,321.02 L966.17,321.21 L966.8,321.43 L967.39,321.67 L967.95,321.95 L968.47,322.25 L968.95,322.58 L969.39,322.94 L969.8,323.33 L970.17,323.75 L970.5,324.2 L970.5,324.2 L971.59,323.75 L972.69,323.33 L973.78,322.94 L974.88,322.58 L975.97,322.25 L977.06,321.95 L978.16,321.67 L979.25,321.43 L980.34,321.21 L981.44,321.02 L982.53,320.86 L983.62,320.73 L984.72,320.63 L985.81,320.56 L986.91,320.51 L988,320.5 L989.09,320.51 L990.19,320.56 L991.28,320.63 L992.38,320.73 L993.47,320.86 L994.56,321.02 L995.66,321.21 L996.75,321.42 L997.84,321.67 L998.94,321.95 L1000.03,322.25 L1001.12,322.58 L1002.22,322.94 L1003.31,323.33 L1004.41,323.75 L1005.5,324.2 L1005.5,324.2 L1005.84,323.75 L1006.22,323.33 L1006.64,322.94 L1007.11,322.58 L1007.63,322.25 L1008.19,321.95 L1008.8,321.67 L1009.45,321.43 L1010.15,321.21 L1010.89,321.02 L1011.68,320.86 L1012.51,320.73 L1013.39,320.63 L1014.32,320.56 L1015.29,320.51 L1016.3,320.5 Z" fill="#000" stroke="none"/>
<path d="M954.5,324 Q956.7,321.4 960.7,320.5 Q968,320.5 970.5,324.2 Q988,316.8 1005.5,324.2 Q1008,320.5 1016.3,320.5 Q1020.3,321.4 1022.5,324" stroke-width="1" fill="none"/>
<path d="M960.7,347 L961.59,346.99 L962.45,346.94 L963.27,346.87 L964.05,346.77 L964.79,346.64 L965.5,346.48 L966.17,346.29 L966.8,346.07 L967.39,345.83 L967.95,345.55 L968.47,345.25 L968.95,344.92 L969.39,344.56 L969.8,344.17 L970.17,343.75 L970.5,343.3 L970.5,343.3 L971.59,343.75 L972.69,344.17 L973.78,344.56 L974.88,344.92 L975.97,345.25 L977.06,345.55 L978.16,345.83 L979.25,346.07 L980.34,346.29 L981.44,346.48 L982.53,346.64 L983.62,346.77 L984.72,346.87 L985.81,346.94 L986.91,346.99 L988,347 L989.09,346.99 L990.19,346.94 L991.28,346.87 L992.38,346.77 L993.47,346.64 L994.56,346.48 L995.66,346.29 L996.75,346.08 L997.84,345.83 L998.94,345.55 L1000.03,345.25 L1001.12,344.92 L1002.22,344.56 L1003.31,344.17 L1004.41,343.75 L1005.5,343.3 L1005.5,343.3 L1005.84,343.75 L1006.22,344.17 L1006.64,344.56 L1007.11,344.92 L1007.63,345.25 L1008.19,345.55 L1008.8,345.83 L1009.45,346.07 L1010.15,346.29 L1010.89,346.48 L1011.68,346.64 L1012.51,346.77 L1013.39,346.87 L1014.32,346.94 L1015.29,346.99 L1016.3,347 Z" fill="#000" stroke="none"/>
<path d="M954.5,343.5 Q956.7,346.1 960.7,347 Q968,347 970.5,343.3 Q988,350.7 1005.5,343.3 Q1008,347 1016.3,347 Q1020.3,346.1 1022.5,343.5" stroke-width="1" fill="none"/>
<line x1="954.5" y1="324" x2="954.5" y2="343.5" stroke-width="1"/>
<line x1="1022.5" y1="324" x2="1022.5" y2="343.5" stroke-width="1"/>
<line x1="970.5" y1="324.2" x2="970.5" y2="343.3" stroke-width="1"/>
<line x1="1005.5" y1="324.2" x2="1005.5" y2="343.3" stroke-width="1"/>
<line x1="960.7" y1="320.5" x2="1016.3" y2="320.5" stroke-width="1.3"/>
<line x1="762.5" y1="188.5" x2="762.5" y2="320.5" stroke-width="1"/>
<line x1="797.5" y1="188.5" x2="797.5" y2="320.5" stroke-width="1"/>
<line x1="970.5" y1="188.5" x2="970.5" y2="320.5" stroke-width="1"/>
<line x1="1005.5" y1="188.5" x2="1005.5" y2="320.5" stroke-width="1"/>
<circle cx="883.7" cy="261.5" r="79.8" stroke-width="1" fill="none"/>
<circle cx="883.7" cy="261.5" r="65.6" stroke-width="1" fill="none"/>
<circle cx="883.7" cy="261.5" r="52" stroke-width="1" fill="none"/>
<path d="M855.42,226.5 H911.98 A45,45 0 0 1 911.98,296.5 H855.42 A45,45 0 0 1 855.42,226.5 Z" stroke-width="1" fill="none"/>
<line x1="779" y1="261.5" x2="989" y2="261.5" stroke-width="1" stroke-dasharray="16.2,1.6,1.1,1.6"/>
<line x1="883.5" y1="81" x2="883.5" y2="429" stroke-width="1" stroke-dasharray="16.2,1.6,1.1,1.6"/>
<rect x="707" y="348" width="354" height="46" stroke-width="2" fill="none"/>
<line x1="743.5" y1="349" x2="743.5" y2="392.5" stroke-width="1" stroke-dasharray="9.5,1.5" stroke-dashoffset="4.75"/>
<line x1="781.5" y1="349" x2="781.5" y2="392.5" stroke-width="1" stroke-dasharray="9.5,1.5" stroke-dashoffset="4.75"/>
<line x1="986.5" y1="349" x2="986.5" y2="392.5" stroke-width="1" stroke-dasharray="9.5,1.5" stroke-dashoffset="4.75"/>
<line x1="1024.5" y1="349" x2="1024.5" y2="392.5" stroke-width="1" stroke-dasharray="9.5,1.5" stroke-dashoffset="4.75"/>
<line x1="762.5" y1="349" x2="762.5" y2="400" stroke-width="1" stroke-dasharray="16.2,1.6,1.1,1.6" stroke-dashoffset="17.05"/>
<line x1="762.5" y1="400" x2="762.5" y2="465" stroke-width="1"/>
<line x1="1005.5" y1="349" x2="1005.5" y2="400" stroke-width="1" stroke-dasharray="16.2,1.6,1.1,1.6" stroke-dashoffset="17.05"/>
<line x1="1005.5" y1="400" x2="1005.5" y2="465" stroke-width="1"/>
<line x1="706.5" y1="396" x2="706.5" y2="499.5" stroke-width="1"/>
<line x1="1060.5" y1="396" x2="1060.5" y2="499.5" stroke-width="1"/>
<line x1="762.5" y1="457.5" x2="1005.5" y2="457.5" stroke-width="1"/>
<path d="M762.5,457.5 L773.4,459.8 L773.4,455.2 Z" fill="#000" stroke="none"/>
<path d="M1005.5,457.5 L994.6,455.2 L994.6,459.8 Z" fill="#000" stroke="none"/>
<path transform="translate(876.1,441.6)" d="M0.5,0.5 H7 L2.2,11" stroke-width="1.05" fill="none" stroke-linecap="round" stroke-linejoin="round"/>
<path transform="translate(886.25,441.6)" d="M0.5,3.3 A2.5,2.8 0 0 1 5.5,3.3 V8.2 A2.5,2.8 0 0 1 0.5,8.2 Z" stroke-width="1.05" fill="none" stroke-linecap="round" stroke-linejoin="round"/>
<line x1="706.5" y1="493.5" x2="1060.5" y2="493.5" stroke-width="1"/>
<path d="M706.5,493.5 L717.4,495.8 L717.4,491.2 Z" fill="#000" stroke="none"/>
<path d="M1060.5,493.5 L1049.6,491.2 L1049.6,495.8 Z" fill="#000" stroke="none"/>
<path transform="translate(872.1,477.3)" d="M0.5,2.4 L2.6,0.5 V11 M0.5,11 H4.4" stroke-width="1.05" fill="none" stroke-linecap="round" stroke-linejoin="round"/>
<path transform="translate(879.2,477.3)" d="M0.5,3.3 A2.5,2.8 0 0 1 5.5,3.3 V8.2 A2.5,2.8 0 0 1 0.5,8.2 Z" stroke-width="1.05" fill="none" stroke-linecap="round" stroke-linejoin="round"/>
<path transform="translate(888.1,477.3)" d="M0.7,2.6 Q1.6,0.5 3.9,0.5 Q7.1,0.5 7.1,3.1 Q7.1,4.6 5,5.6 L1.8,6.9 Q0.6,7.5 0.6,8.8 V11 H7.1" stroke-width="1.05" fill="none" stroke-linecap="round" stroke-linejoin="round"/>
</svg>
</body></html>
